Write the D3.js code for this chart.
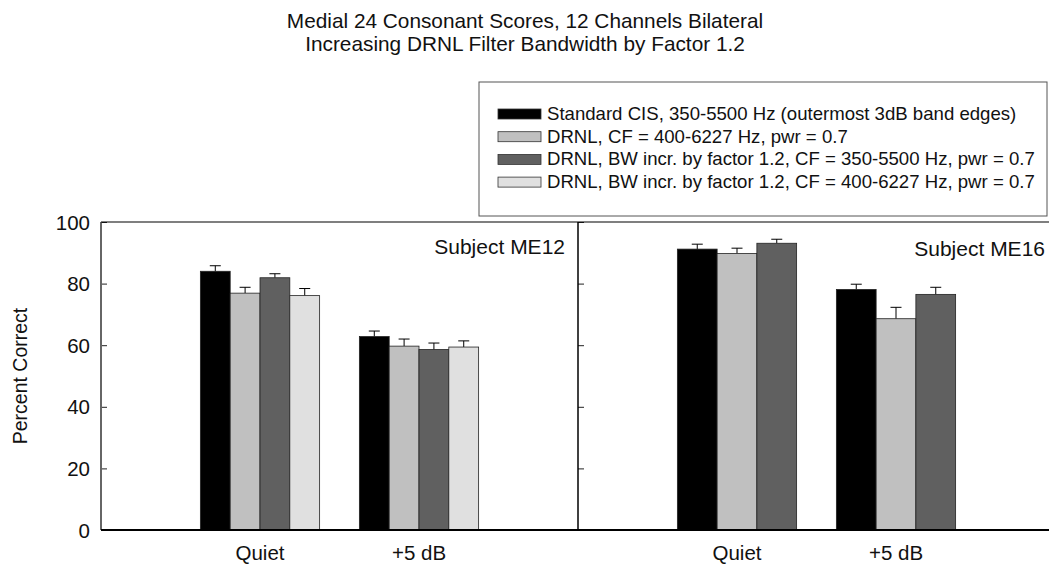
<!DOCTYPE html>
<html>
<head>
<meta charset="utf-8">
<script src="https://cdn.jsdelivr.net/npm/d3@7/dist/d3.min.js"></script>
<style>
  html, body { margin: 0; padding: 0; background: #fff; }
  svg { display: block; font-family: "Liberation Sans", Arial, sans-serif; }
</style>
</head>
<body>
<svg id="chart" width="1049" height="566"></svg>
<script>
// Conditions along each panel's x axis
const conditions = ["Quiet", "+5 dB"];

// Processing strategies (legend entries)
const seriesNames = [
  "Standard CIS, 350-5500 Hz (outermost 3dB band edges)",
  "DRNL, CF = 400-6227 Hz, pwr = 0.7",
  "DRNL, BW incr. by factor 1.2, CF = 350-5500 Hz, pwr = 0.7",
  "DRNL, BW incr. by factor 1.2, CF = 400-6227 Hz, pwr = 0.7"
];
const seriesColors = ["#000000", "#c0c0c0", "#606060", "#e0e0e0"];

// Subject ME12: mean percent correct per condition, one value per strategy
const me12Means = [
  [84.0, 76.9, 81.9, 76.1],
  [62.8, 59.7, 58.6, 59.4]
];
const me12Errors = [
  [1.8, 1.9, 1.3, 2.3],
  [1.8, 2.3, 2.1, 2.0]
];

// Subject ME16: only the first three strategies were tested
const me16Means = [
  [91.2, 89.8, 93.1],
  [78.1, 68.6, 76.5]
];
const me16Errors = [
  [1.6, 1.7, 1.3],
  [1.7, 3.7, 2.3]
];

const yTicks = [0, 20, 40, 60, 80, 100];

const panels = [
  { name: "Subject ME12", means: me12Means, errors: me12Errors },
  { name: "Subject ME16", means: me16Means, errors: me16Errors }
];

const svg = d3.select("#chart");

const plotTop = 222, plotBottom = 530, panelW = 477, firstLeft = 101;
const y = d3.scaleLinear().domain([0, 100]).range([plotBottom, plotTop]);

// Title
const title = svg.append("text")
  .attr("x", 525).attr("text-anchor", "middle")
  .attr("font-size", 20.8).attr("fill", "#111");
title.append("tspan").attr("x", 525).attr("y", 28)
  .text("Medial 24 Consonant Scores, 12 Channels Bilateral");
title.append("tspan").attr("x", 525).attr("y", 51)
  .text("Increasing DRNL Filter Bandwidth by Factor 1.2");

// Y axis label
svg.append("text")
  .attr("transform", `translate(27,${(plotTop + plotBottom) / 2}) rotate(-90)`)
  .attr("text-anchor", "middle").attr("font-size", 19.5).attr("fill", "#111")
  .text("Percent Correct");

panels.forEach((p, pi) => {
  const left = firstLeft + pi * panelW;
  const right = left + panelW;
  const x = d3.scaleLinear().domain([0, 3]).range([left, right]);
  const unit = x(1) - x(0);
  const nSeries = p.means[0].length;
  const band = d3.scaleBand()
    .domain(d3.range(nSeries))
    .range([-unit * 0.375, unit * 0.375]);

  const g = svg.append("g");

  // Bars
  p.means.forEach((vals, ci) => {
    const cx = x(ci + 1);
    vals.forEach((v, si) => {
      const bx = cx + band(si);
      const bw = band.bandwidth();
      // error bar (upper half only)
      const ey = y(v + p.errors[ci][si]);
      const mx = bx + bw / 2;
      g.append("line").attr("x1", mx).attr("x2", mx)
        .attr("y1", y(v)).attr("y2", ey)
        .attr("stroke", "#000").attr("stroke-width", 1);
      g.append("line").attr("x1", mx - 5.5).attr("x2", mx + 5.5)
        .attr("y1", ey).attr("y2", ey)
        .attr("stroke", "#000").attr("stroke-width", 1);
      g.append("rect")
        .attr("x", bx).attr("y", y(v))
        .attr("width", bw).attr("height", y(0) - y(v))
        .attr("fill", seriesColors[si])
        .attr("stroke", "#222").attr("stroke-width", 0.8);
    });
  });

  // Left axis with inward ticks
  const yAxis = d3.axisRight(y).tickValues(yTicks)
    .tickSize(6).tickFormat("");
  const ag = g.append("g").attr("transform", `translate(${left},0)`).call(yAxis);
  ag.select(".domain").remove();
  ag.selectAll(".tick line").attr("stroke", "#222");

  if (pi === 0) {
    g.selectAll(".ylab").data(yTicks).enter().append("text")
      .attr("x", left - 11).attr("y", d => y(d) + 7.5)
      .attr("text-anchor", "end").attr("font-size", 20.5).attr("fill", "#111")
      .text(d => d);
  }

  // Panel frame: left, top, bottom
  g.append("line").attr("x1", left).attr("x2", left).attr("y1", plotTop).attr("y2", plotBottom)
    .attr("stroke", pi === 0 ? "#666" : "#000").attr("stroke-width", pi === 0 ? 2 : 1.5);
  g.append("line").attr("x1", left).attr("x2", right).attr("y1", plotTop).attr("y2", plotTop)
    .attr("stroke", "#000").attr("stroke-width", 1.2);
  g.append("line").attr("x1", left).attr("x2", right).attr("y1", plotBottom).attr("y2", plotBottom)
    .attr("stroke", "#000").attr("stroke-width", 2);

  // Condition labels
  conditions.forEach((c, ci) => {
    g.append("text").attr("x", x(ci + 1)).attr("y", 560)
      .attr("text-anchor", "middle").attr("font-size", 20.5).attr("fill", "#111")
      .text(c);
  });

  // Subject label
  g.append("text").attr("x", pi === 0 ? right - 13 : right - 10)
    .attr("y", pi === 0 ? 254 : 256)
    .attr("text-anchor", "end").attr("font-size", 21).attr("fill", "#111")
    .text(p.name);
});

// Legend
const lg = svg.append("g");
lg.append("rect").attr("x", 479).attr("y", 82).attr("width", 568).attr("height", 134)
  .attr("fill", "#fff").attr("stroke", "#555").attr("stroke-width", 1);
seriesNames.forEach((s, i) => {
  const ry = 114 + i * 22.7;
  lg.append("rect").attr("x", 498).attr("y", ry - 5).attr("width", 43).attr("height", 10)
    .attr("fill", seriesColors[i]).attr("stroke", "#333").attr("stroke-width", 0.8);
  lg.append("text").attr("x", 547).attr("y", ry + 6)
    .attr("font-size", 18.6).attr("fill", "#111").text(s);
});
</script>
</body>
</html>
